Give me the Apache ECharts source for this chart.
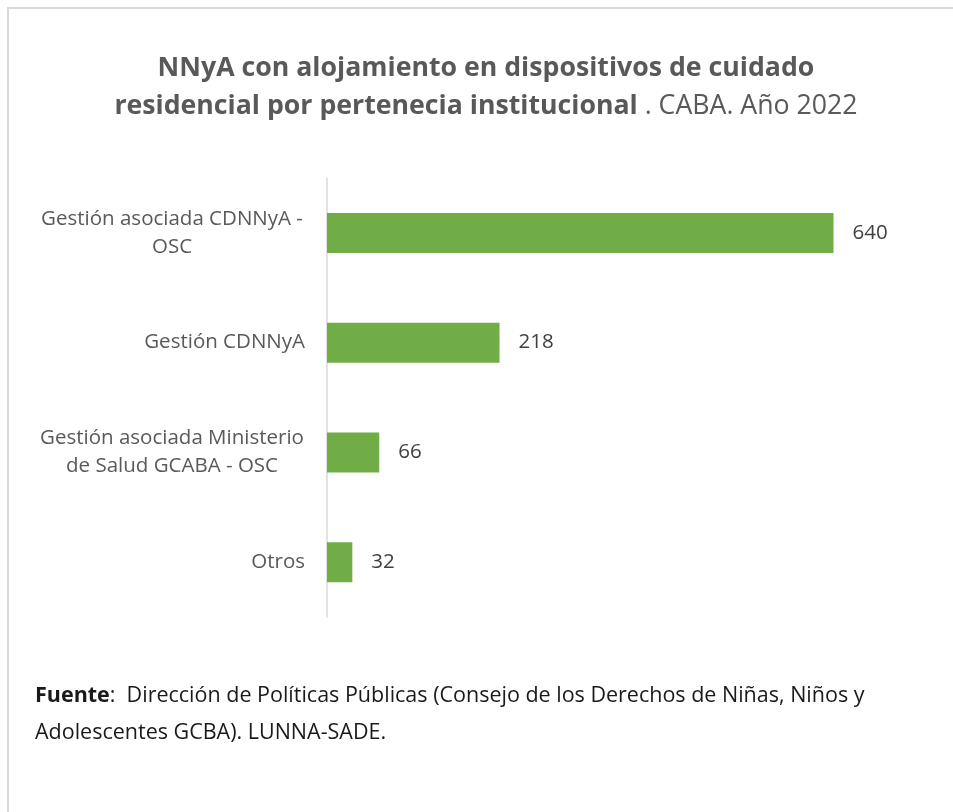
<!DOCTYPE html>
<html>
<head>
<meta charset="utf-8">
<script src="https://cdn.jsdelivr.net/npm/echarts@6/dist/echarts.min.js"></script>
<style>
  html, body { margin: 0; padding: 0; background: #fff; }
  #chart { width: 953px; height: 812px; }
</style>
</head>
<body>
<div id="chart"></div>
<script>
// categorias y valores
var categorias = [
    'Gestión asociada CDNNyA -\nOSC',
    'Gestión CDNNyA',
    'Gestión asociada Ministerio\nde Salud GCABA - OSC',
    'Otros'
];
var valores = [640, 218, 66, 32];
var ejeMax = 700;

var myChart = echarts.init(document.getElementById('chart'));

var option = {
    backgroundColor: '#fff',
    animation: false,
    title: {
        left: 481,
        top: 44,
        textAlign: 'center',
        text: '{b|NNyA con alojamiento en dispositivos de cuidado}\n{b|residencial por pertenecia institucional}{n| . CABA. Año 2022}',
        textStyle: {
            rich: {
                b: { fontFamily: 'Open Sans', fontWeight: 'bold', fontSize: 26.7, color: '#595959', lineHeight: 38 },
                n: { fontFamily: 'Open Sans', fontWeight: 'normal', fontSize: 26.7, color: '#595959', lineHeight: 38 }
            }
        }
    },
    grid: { left: 327, top: 178, height: 439, right: 953 - 327 - 554 },
    xAxis: {
        type: 'value',
        min: 0,
        max: ejeMax,
        show: false
    },
    yAxis: {
        type: 'category',
        data: categorias,
        inverse: true,
        axisLine: { lineStyle: { color: '#d9d9d9', width: 1.5 } },
        axisTick: { show: false },
        axisLabel: {
            margin: 22,
            fontFamily: 'Open Sans',
            fontSize: 20.5,
            color: '#595959',
            lineHeight: 28,
            formatter: function (v) {
                if (v.indexOf('\n') < 0) return v;
                return v.split('\n').map(function (l) { return '{c|' + l + '}'; }).join('\n');
            },
            rich: {
                c: { width: 266, align: 'center', fontFamily: 'Open Sans', fontSize: 20.5, color: '#595959', lineHeight: 28 }
            }
        }
    },
    series: [{
        type: 'bar',
        data: valores,
        barWidth: 40,
        itemStyle: { color: '#70ad47' },
        label: {
            show: true,
            position: 'right',
            distance: 19,
            fontFamily: 'Open Sans',
            fontSize: 20.5,
            color: '#404040'
        }
    }],
    graphic: [
        {
            type: 'rect',
            shape: { x: 8, y: 8, width: 1000, height: 900 },
            style: { fill: 'none', stroke: '#d9d9d9', lineWidth: 2 },
            silent: true
        },
        {
            type: 'text',
            left: 35,
            top: 677,
            style: {
                text: '{b|Fuente}:  Dirección de Políticas Públicas (Consejo de los Derechos de Niñas, Niños y\nAdolescentes GCBA). LUNNA-SADE.',
                fontFamily: 'Open Sans',
                fontSize: 21.5,
                lineHeight: 37,
                fill: '#1a1a1a',
                rich: {
                    b: { fontFamily: 'Open Sans', fontWeight: 'bold', fontSize: 21.5, lineHeight: 37, fill: '#1a1a1a' }
                }
            }
        }
    ]
};
myChart.setOption(option);
</script>
</body>
</html>
